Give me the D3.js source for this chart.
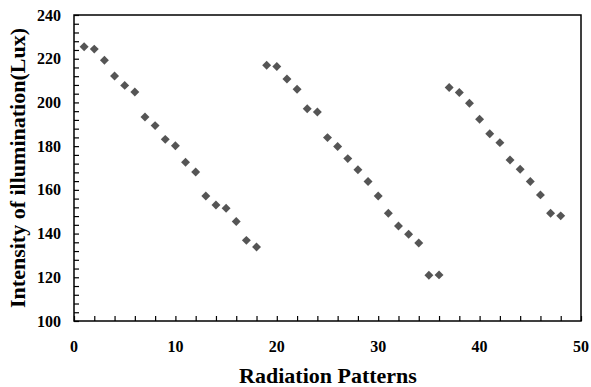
<!DOCTYPE html>
<html><head><meta charset="utf-8">
<script src="https://cdn.jsdelivr.net/npm/d3@7"></script>
<style>body{margin:0;background:#fff} text{font-family:"Liberation Serif","DejaVu Serif","Times New Roman",serif;font-weight:bold}</style>
</head><body>
<svg id="c" width="591" height="387"></svg>
<script>
const patterns = d3.range(1, 49);
const illumination = [
 225.5,224.4,219.3,212.1,207.8,204.8,193.3,189.4,183.1,180.2,172.6,168.2,
 157.2,153.1,151.6,145.5,136.9,133.9,
 217.0,216.4,210.7,206.0,197.1,195.6,183.9,179.8,174.3,169.2,163.8,157.2,
 149.3,143.5,139.7,135.7,120.9,121.1,
 206.8,204.5,199.6,192.3,185.7,181.6,173.7,169.4,163.8,157.7,149.3,148.1
];
const xTicks = [0,10,20,30,40,50];
const yTicks = [100,120,140,160,180,200,220,240];

const svg = d3.select("#c");
const L=74, R=581, T=15, B=321;
const x = d3.scaleLinear().domain([0,50]).range([L,R]);
const y = d3.scaleLinear().domain([100,240]).range([B,T]);

svg.append("rect").attr("x",L).attr("y",T).attr("width",R-L).attr("height",B-T)
  .attr("fill","none").attr("stroke","#000").attr("stroke-width",1.5);

// x axis
const xa = svg.append("g").attr("transform",`translate(0,${B})`)
  .call(d3.axisBottom(x).tickValues(d3.range(0,51,2)).tickSize(-5).tickFormat(""));
xa.select(".domain").remove();
xa.selectAll("line").attr("stroke","#000").attr("stroke-width",1.2);
svg.append("g").selectAll("text").data(xTicks).join("text")
  .attr("x",d=>x(d)).attr("y",B+31).attr("text-anchor","middle")
  .attr("font-size",16).text(d=>d);

// y axis
const ya = svg.append("g").attr("transform",`translate(${L},0)`)
  .call(d3.axisLeft(y).tickValues(d3.range(100,241,4)).tickSize(-5).tickFormat(""));
ya.select(".domain").remove();
ya.selectAll("line").attr("stroke","#000").attr("stroke-width",1.2);
svg.append("g").selectAll("text").data(yTicks).join("text")
  .attr("x",L-13).attr("y",d=>y(d)+5.5).attr("text-anchor","end")
  .attr("font-size",16).text(d=>d);

// points
svg.append("g").selectAll("path").data(patterns).join("path")
  .attr("d", d3.symbol(d3.symbolSquare, 40))
  .attr("transform",(d,i)=>`translate(${x(d)},${y(illumination[i])}) rotate(45)`)
  .attr("fill","#555");

svg.append("text").attr("x",328).attr("y",383).attr("text-anchor","middle")
  .attr("font-size",22)
  .text("Radiation Patterns");
svg.append("text").attr("transform","translate(25,168) rotate(-90)").attr("text-anchor","middle")
  .attr("font-size",22)
  .text("Intensity of illumination(Lux)");
</script>
</body></html>
